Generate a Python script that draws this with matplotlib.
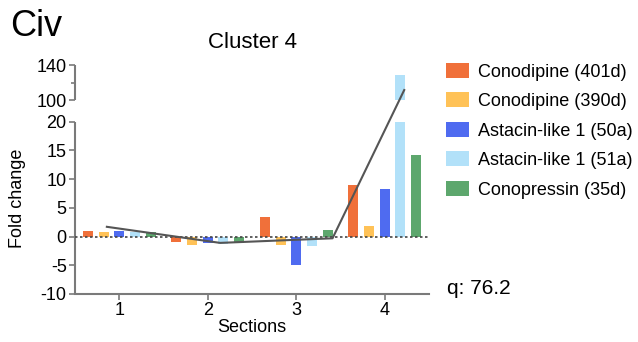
import numpy as np
import matplotlib.pyplot as plt
from matplotlib.patches import Patch

plt.rcParams['font.family'] = ['Liberation Sans', 'DejaVu Sans']
plt.rcParams['axes.unicode_minus'] = False

# data
sections = [1, 2, 3, 4]
series = ['Conodipine (401d)', 'Conodipine (390d)', 'Astacin-like 1 (50a)',
          'Astacin-like 1 (51a)', 'Conopressin (35d)']
colors = ['#F0703A', '#FFC257', '#4F6BF0', '#B2E1F9', '#5DA76D']
conodipine_401d = [0.9, -1.0, 3.4, 8.9]
conodipine_390d = [0.85, -1.4, -1.4, 1.8]
astacin_50a = [0.9, -1.1, -5.0, 8.3]
astacin_51a = [0.8, -1.3, -1.6, 128.6]
conopressin_35d = [0.75, -1.1, 1.2, 14.2]
trend_x = [0.86, 2.14, 3.41, 4.22]
trend_y = [1.7, -1.1, -0.3, 111.4]
q_value = 76.2

values = [conodipine_401d, conodipine_390d, astacin_50a, astacin_51a, conopressin_35d]

# broken y axis: -10..20 linear, squeezed gap, then 100..140 compressed
gap = 3.78
k = 0.1524
xp = [-1000, 20, 100, 1000]
fp = [-1000, 20, 20 + gap, 20 + gap + 900 * k]


def fwd(v):
    return np.interp(v, xp, fp)


def inv(v):
    return np.interp(v, fp, xp)


gray = '#7a7a7a'
fig = plt.figure(figsize=(6.38, 3.42), dpi=100)
ax = fig.add_axes([75 / 638, 1 - 294 / 342, 354 / 638, 229 / 342])
ax.set_yscale('function', functions=(fwd, inv))

x = np.array(sections, dtype=float)
width = 0.113
step = 0.177
for i, (vals, col) in enumerate(zip(values, colors)):
    ax.bar(x + (i - 2) * step, vals, width=width, color=col, zorder=1)

# hide the bars inside the axis break
ax.axhspan(20, 100, color='white', lw=0, zorder=1.5)
ax.axhline(0, color='#444444', lw=1.2, ls=(0, (1.5, 1.5)), zorder=2.5)
ax.plot(trend_x, trend_y, color='#555555', lw=1.5, zorder=3)

ax.set_xlim(0.5, 4.5)
ax.set_ylim(-10, 140)
ax.set_xticks(sections)
ax.set_yticks([-10, -5, 0, 5, 10, 15, 20, 100, 140])
ax.set_yticks([120], minor=True)
ax.yaxis.set_minor_formatter(plt.NullFormatter())

for s in ['top', 'right', 'left']:
    ax.spines[s].set_visible(False)
ax.spines['bottom'].set_color(gray)
ax.spines['bottom'].set_linewidth(1.5)
trans = ax.get_yaxis_transform()
ax.plot([0, 0], [-10, 20], transform=trans, color=gray, lw=1.5, clip_on=False, solid_capstyle='butt')
ax.plot([0, 0], [100, 140], transform=trans, color=gray, lw=1.5, clip_on=False, solid_capstyle='butt')

ax.tick_params(axis='both', which='major', direction='out', length=4, width=1.2,
               color=gray, labelsize=13, pad=2)
ax.tick_params(axis='y', which='minor', direction='out', length=3, width=1.2, color=gray)

fig.text(10 / 638, 1 - 27 / 342, 'Civ', fontsize=26, va='center', ha='left')
fig.text(252 / 638, 1 - 43 / 342, 'Cluster 4', fontsize=16, va='center', ha='center')
fig.text(252 / 638, 1 - 328 / 342, 'Sections', fontsize=13, va='center', ha='center')
fig.text(18 / 638, 1 - 198 / 342, 'Fold change', fontsize=13, va='center', ha='center', rotation=90)
fig.text(447 / 638, 1 - 289 / 342, 'q: %.1f' % q_value, fontsize=15, va='center', ha='left')

handles = [Patch(facecolor=c, edgecolor='none') for c in colors]
fig.legend(handles, series, loc='upper left', bbox_to_anchor=(446 / 638, 1 - 63 / 342),
           frameon=False, fontsize=13, borderpad=0, borderaxespad=0,
           handlelength=1.25, handleheight=0.9, handletextpad=0.55, labelspacing=0.65)

fig.savefig('out.png', dpi=100)
